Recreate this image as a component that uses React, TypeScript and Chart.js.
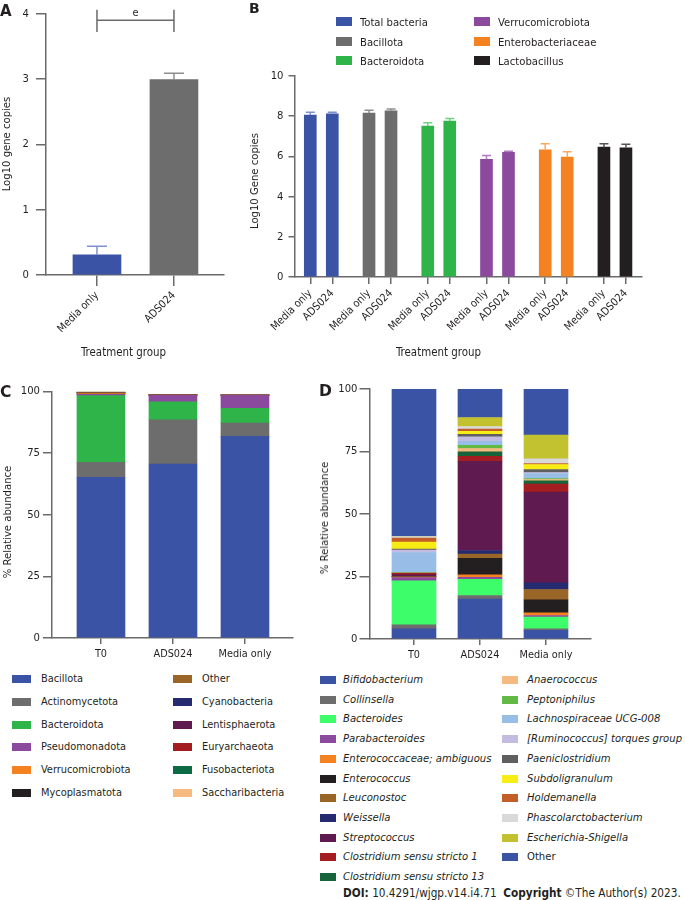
import React, { useEffect, useRef } from 'react';
import { Chart, registerables } from 'chart.js';

Chart.register(...registerables);

const FONT = "'DejaVu Sans Condensed', 'Liberation Sans', Arial, Helvetica, sans-serif";
const LETTER_FONT = "'DejaVu Sans', 'Liberation Sans', Arial, sans-serif";
const TEXT = '#231f20';
const AXIS = '#6a6a6a';
const TICK_SIZE = 10.8;

// ===== Panel A =====
const aGroups = ['Media only', 'ADS024'];
const aMeans = [0.31, 2.99];
const aSem = [0.13, 0.1];
const aColors = ['#3a53a4', '#6d6d6d'];
const aErrColors = ['#7d91d2', '#8e8e8e'];
const aSigLabel = 'e';

// ===== Panel B =====
const bTargets = ['Total bacteria', 'Bacillota', 'Bacteroidota', 'Verrucomicrobiota', 'Enterobacteriaceae', 'Lactobacillus'];
const bGroups = ['Media only', 'ADS024'];
const bMediaMeans = [8.06, 8.16, 7.51, 5.86, 6.33, 6.46];
const bAdsMeans = [8.12, 8.27, 7.76, 6.2, 5.96, 6.43];
const bMediaSem = [0.14, 0.13, 0.16, 0.19, 0.3, 0.17];
const bAdsSem = [0.08, 0.09, 0.13, 0.06, 0.27, 0.18];
const bColors = ['#3a53a4', '#6d6d6d', '#2fb44a', '#8b4a9e', '#f58220', '#231f20'];
const bErrColors = ['#7d91d2', '#8e8e8e', '#6fd283', '#b07dc0', '#f9a862', '#555555'];

// ===== Panel C =====
const cGroups = ['T0', 'ADS024', 'Media only'];
const cPhyla = ['Bacillota', 'Actinomycetota', 'Bacteroidota', 'Pseudomonadota', 'Verrucomicrobiota', 'Mycoplasmatota', 'Other', 'Cyanobacteria', 'Lentisphaerota', 'Euryarchaeota', 'Fusobacteriota', 'Saccharibacteria'];
const cT0 = [65.2, 6.1, 27.0, 0.6, 0.3, 0.05, 0.3, 0.05, 0.05, 0.05, 0.05, 0.25];
const cAds = [70.6, 17.9, 7.3, 2.6, 0.1, 0, 0.05, 0, 0, 0.05, 0, 0.3];
const cMedia = [81.8, 5.4, 6.0, 5.2, 0.1, 0, 0.05, 0, 0, 0, 0, 0.1];
const cColors = ['#3a53a4', '#6d6d6d', '#2fb44a', '#8b4a9e', '#f58220', '#231f20', '#996628', '#262a6e', '#5f1a4f', '#a31d21', '#0b6b45', '#f6b97f'];

// ===== Panel D =====
const dGroups = ['T0', 'ADS024', 'Media only'];
const dGenera = [
  'Bifidobacterium', 'Collinsella', 'Bacteroides', 'Parabacteroides', 'Enterococcaceae; ambiguous', 'Enterococcus',
  'Leuconostoc', 'Weissella', 'Streptococcus', 'Clostridium sensu stricto 1', 'Clostridium sensu stricto 13',
  'Anaerococcus', 'Peptoniphilus', 'Lachnospiraceae UCG-008', '[Ruminococcus] torques group', 'Paeniclostridium',
  'Subdoligranulum', 'Holdemanella', 'Phascolarctobacterium', 'Escherichia-Shigella', 'Other',
];
const dT0 = [4.1, 1.6, 17.6, 1.3, 0.2, 0.1, 0.1, 0.1, 0.6, 0.6, 0.1, 0.1, 0.1, 8.0, 1.0, 0.4, 2.8, 1.6, 0.6, 0.1, 58.9];
const dAds = [16.0, 1.4, 6.5, 0.8, 1.0, 6.6, 1.7, 1.4, 35.7, 2.0, 1.8, 1.3, 1.3, 1.6, 1.8, 1.0, 1.2, 0.9, 1.0, 3.6, 11.4];
const dMedia = [3.5, 0.6, 4.7, 0.6, 1.1, 5.2, 4.1, 2.7, 36.3, 3.2, 1.3, 0.5, 0.4, 2.0, 0.4, 1.2, 2.0, 0.4, 1.9, 9.5, 18.4];
const dColors = [
  '#3a53a4', '#6d6d6d', '#3dfd6a', '#8b4a9e', '#f58220', '#231f20', '#996628', '#262a6e', '#5f1a4f', '#a31d21',
  '#17643a', '#f6b97f', '#63b946', '#98bde6', '#c3bce0', '#5f5f5f', '#f7ec13', '#c45e28', '#d9d9d9', '#c2c12f', '#3a53a4',
];

// ---------- helpers ----------
function xLinear(o: any) {
  return {
    type: 'linear',
    min: o.min,
    max: o.max,
    bounds: 'data',
    offset: false,
    stacked: !!o.stacked,
    afterBuildTicks: (s: any) => {
      s.ticks = o.tickValues.map((v: number) => ({ value: v }));
    },
    afterFit: (s: any) => {
      s.height = o.xh;
    },
    grid: {
      display: true,
      drawOnChartArea: false,
      drawTicks: true,
      tickLength: o.tickLength,
      offset: false,
      color: AXIS,
      lineWidth: 1.5,
    },
    border: { display: true, color: AXIS, width: 1.5 },
    ticks: {
      autoSkip: false,
      minRotation: o.rotation,
      maxRotation: o.rotation,
      padding: o.padding,
      color: TEXT,
      font: { family: FONT, size: TICK_SIZE },
      callback: (v: number) => {
        const i = o.tickValues.indexOf(v);
        return i >= 0 ? o.labels[i] : '';
      },
    },
  };
}

function yLinear(o: any) {
  return {
    type: 'linear',
    min: 0,
    max: o.max,
    bounds: 'data',
    stacked: !!o.stacked,
    afterFit: (s: any) => {
      s.width = o.yw;
    },
    grid: {
      display: true,
      drawOnChartArea: false,
      drawTicks: true,
      tickLength: o.tickLength,
      color: AXIS,
      lineWidth: 1.5,
    },
    border: { display: true, color: AXIS, width: 1.5 },
    ticks: {
      stepSize: o.step,
      padding: o.padding,
      color: TEXT,
      font: { family: FONT, size: TICK_SIZE + 0.4 },
    },
  };
}

const errorBarPlugin = {
  id: 'errorBars',
  afterDatasetsDraw(chart: any) {
    const { ctx } = chart;
    const y = chart.scales.y;
    chart.data.datasets.forEach((ds: any, di: number) => {
      if (!ds.errors) return;
      const meta = chart.getDatasetMeta(di);
      meta.data.forEach((el: any, i: number) => {
        const v = ds.data[i].y;
        const yTop = y.getPixelForValue(v + ds.errors[i]);
        ctx.save();
        ctx.strokeStyle = ds.errorColors[i];
        ctx.lineWidth = 1.5;
        ctx.beginPath();
        ctx.moveTo(el.x, el.y);
        ctx.lineTo(el.x, yTop);
        ctx.moveTo(el.x - ds.capWidth / 2, yTop);
        ctx.lineTo(el.x + ds.capWidth / 2, yTop);
        ctx.stroke();
        ctx.restore();
      });
    });
  },
};

const bracketPlugin = {
  id: 'bracket',
  afterDraw(chart: any) {
    const { ctx } = chart;
    const x = chart.scales.x;
    const y = chart.scales.y;
    const x0 = x.getPixelForValue(0);
    const x1 = x.getPixelForValue(1);
    const yl = y.getPixelForValue(3.9);
    const yt = y.getPixelForValue(4.06);
    const yb = y.getPixelForValue(3.72);
    ctx.save();
    ctx.strokeStyle = AXIS;
    ctx.lineWidth = 1.5;
    ctx.beginPath();
    ctx.moveTo(x0, yt);
    ctx.lineTo(x0, yb);
    ctx.moveTo(x1, yt);
    ctx.lineTo(x1, yb);
    ctx.moveTo(x0, yl);
    ctx.lineTo(x1, yl);
    ctx.stroke();
    ctx.fillStyle = TEXT;
    ctx.font = `11px ${FONT}`;
    ctx.textAlign = 'center';
    ctx.textBaseline = 'alphabetic';
    ctx.fillText(aSigLabel, (x0 + x1) / 2, yl - 4);
    ctx.restore();
  },
};

function baseOptions(pad: any, scales: any) {
  return {
    responsive: false,
    animation: false,
    devicePixelRatio: 1,
    layout: { padding: pad },
    plugins: { legend: { display: false }, tooltip: { enabled: false }, title: { display: false } },
    scales,
  };
}

function ChartCanvas({ box, make }: { box: any; make: () => any }) {
  const ref = useRef<HTMLCanvasElement>(null);
  useEffect(() => {
    const chart = new Chart(ref.current as HTMLCanvasElement, make());
    return () => chart.destroy();
  }, []);
  return (
    <canvas
      ref={ref}
      width={box.width}
      height={box.height}
      style={{ position: 'absolute', left: box.left, top: box.top, width: box.width, height: box.height }}
    />
  );
}

// ---------- chart configs ----------
const boxA = { left: 0, top: 0, width: 232, height: 345 };
function makeA() {
  const idx = aGroups.map((_, i) => i);
  return {
    type: 'bar',
    data: {
      datasets: [
        {
          data: aMeans.map((v, i) => ({ x: i, y: v })),
          backgroundColor: aColors,
          barThickness: 48,
          borderWidth: 0,
          errors: aSem,
          errorColors: aErrColors,
          capWidth: 20,
        },
      ],
    },
    options: baseOptions({ left: 0, top: 7, right: 8, bottom: 0 }, {
      x: xLinear({ min: -0.662, max: 1.65, tickValues: idx, labels: aGroups, rotation: 45, xh: 70, tickLength: 11, padding: 3 }),
      y: yLinear({ max: 4, step: 1, yw: 46, tickLength: 10, padding: 7 }),
    }),
    plugins: [errorBarPlugin, bracketPlugin],
  };
}

const boxB = { left: 230, top: 60, width: 455, height: 290 };
const bStride = 2.67;
function makeB() {
  const xs: number[] = [];
  const labels: string[] = [];
  const means: number[] = [];
  const sems: number[] = [];
  const cols: string[] = [];
  const ecols: string[] = [];
  bTargets.forEach((_, g) => {
    bGroups.forEach((grp, j) => {
      xs.push(g * bStride + j);
      labels.push(grp);
      means.push(j === 0 ? bMediaMeans[g] : bAdsMeans[g]);
      sems.push(j === 0 ? bMediaSem[g] : bAdsSem[g]);
      cols.push(bColors[g]);
      ecols.push(bErrColors[g]);
    });
  });
  return {
    type: 'bar',
    data: {
      datasets: [
        {
          data: means.map((v, i) => ({ x: xs[i], y: v })),
          backgroundColor: cols,
          barThickness: 12,
          borderWidth: 0,
          errors: sems,
          errorColors: ecols,
          capWidth: 9,
        },
      ],
    },
    options: baseOptions({ left: 0, top: 16, right: 43, bottom: 0 }, {
      x: xLinear({ min: -0.718, max: 15.08, tickValues: xs, labels, rotation: 45, xh: 73, tickLength: 7, padding: 3 }),
      y: yLinear({ max: 10, step: 2, yw: 64.5, tickLength: 6, padding: 5 }),
    }),
    plugins: [errorBarPlugin],
  };
}

const boxC = { left: 0, top: 380, width: 300, height: 290 };
function makeC() {
  const groupsData = [cT0, cAds, cMedia];
  return {
    type: 'bar',
    data: {
      datasets: cPhyla.map((name, p) => ({
        label: name,
        data: groupsData.map((arr, g) => ({ x: g, y: arr[p] })),
        backgroundColor: cColors[p],
        barThickness: 48,
        borderWidth: 0,
      })),
    },
    options: baseOptions({ left: 0, top: 11.5, right: 7, bottom: 0 }, {
      x: xLinear({ min: -0.68, max: 2.667, tickValues: [0, 1, 2], labels: cGroups, rotation: 0, xh: 32, tickLength: 6, padding: 4, stacked: true }),
      y: yLinear({ max: 100, step: 25, yw: 52, tickLength: 9, padding: 3, stacked: true }),
    }),
  };
}

const boxD = { left: 310, top: 380, width: 290, height: 290 };
function makeD() {
  const groupsData = [dT0, dAds, dMedia];
  return {
    type: 'bar',
    data: {
      datasets: dGenera.map((name, p) => ({
        label: name,
        data: groupsData.map((arr, g) => ({ x: g, y: arr[p] })),
        backgroundColor: dColors[p],
        barThickness: 44,
        borderWidth: 0,
      })),
    },
    options: baseOptions({ left: 0, top: 9, right: 9, bottom: 0 }, {
      x: xLinear({ min: -0.674, max: 2.682, tickValues: [0, 1, 2], labels: dGroups, rotation: 0, xh: 31, tickLength: 6, padding: 4, stacked: true }),
      y: yLinear({ max: 100, step: 25, yw: 59.5, tickLength: 10, padding: 2, stacked: true }),
    }),
  };
}

// ---------- HTML text helpers ----------
function Txt({ x, cy, children, size = 12, bold = false, italic = false, center = false, family = FONT }: any) {
  return (
    <div
      style={{
        position: 'absolute',
        left: x,
        top: cy - 8,
        height: 16,
        lineHeight: '16px',
        fontFamily: family,
        fontSize: size,
        fontWeight: bold ? 700 : 400,
        fontStyle: italic ? 'italic' : 'normal',
        color: TEXT,
        whiteSpace: 'nowrap',
        transform: center ? 'translateX(-50%)' : undefined,
      }}
    >
      {children}
    </div>
  );
}

function VTxt({ cx, cy, children, size = 11.2 }: any) {
  return (
    <div
      style={{
        position: 'absolute',
        left: cx,
        top: cy,
        fontFamily: FONT,
        fontSize: size,
        lineHeight: '14px',
        color: TEXT,
        whiteSpace: 'nowrap',
        transform: 'translate(-50%, -50%) rotate(-90deg)',
      }}
    >
      {children}
    </div>
  );
}

function Swatch({ x, cy, w, h, color }: any) {
  return <div style={{ position: 'absolute', left: x, top: cy - h / 2, width: w, height: h, background: color }} />;
}

export default function App() {
  const bCol1 = [0, 1, 2];
  const bCol2 = [3, 4, 5];
  const bRowY = [21.7, 41.2, 60.3];
  const cRow = (i: number) => 679 + i * 22.8;
  const dRow = (i: number) => 680 + i * 19.7;
  return (
    <div style={{ position: 'absolute', left: 0, top: 0, width: 685, height: 900, background: '#fff', overflow: 'hidden' }}>
      <ChartCanvas box={boxA} make={makeA} />
      <ChartCanvas box={boxB} make={makeB} />
      <ChartCanvas box={boxC} make={makeC} />
      <ChartCanvas box={boxD} make={makeD} />

      {/* panel letters */}
      <Txt x={0} cy={11} size={15} bold family={LETTER_FONT}>A</Txt>
      <Txt x={249} cy={8} size={14} bold family={LETTER_FONT}>B</Txt>
      <Txt x={0} cy={392} size={15.5} bold family={LETTER_FONT}>C</Txt>
      <Txt x={319} cy={391} size={15.5} bold family={LETTER_FONT}>D</Txt>

      {/* axis titles */}
      <VTxt cx={7} cy={144}>Log10 gene copies</VTxt>
      <VTxt cx={255} cy={181}>Log10 Gene copies</VTxt>
      <VTxt cx={8} cy={522}>% Relative abundance</VTxt>
      <VTxt cx={325} cy={518}>% Relative abundance</VTxt>
      <Txt x={123.5} cy={352} size={11.4} center>Treatment group</Txt>
      <Txt x={438.5} cy={352} size={11.4} center>Treatment group</Txt>

      {/* legend B */}
      {bCol1.map((g, r) => (
        <React.Fragment key={'b1' + g}>
          <Swatch x={336} cy={bRowY[r]} w={16} h={9} color={bColors[g]} />
          <Txt x={360} cy={bRowY[r] + 1.5} size={11.2}>{bTargets[g]}</Txt>
        </React.Fragment>
      ))}
      {bCol2.map((g, r) => (
        <React.Fragment key={'b2' + g}>
          <Swatch x={474} cy={bRowY[r]} w={16} h={9} color={bColors[g]} />
          <Txt x={498} cy={bRowY[r] + 1.5} size={11.2}>{bTargets[g]}</Txt>
        </React.Fragment>
      ))}

      {/* legend C */}
      {cPhyla.map((name, p) => {
        const col = p < 6 ? 0 : 1;
        const r = p % 6;
        return (
          <React.Fragment key={'c' + p}>
            <Swatch x={col === 0 ? 12 : 173} cy={cRow(r)} w={19} h={8} color={cColors[p]} />
            <Txt x={col === 0 ? 41 : 202} cy={cRow(r)} size={10.9}>{name}</Txt>
          </React.Fragment>
        );
      })}

      {/* legend D */}
      {dGenera.map((name, p) => {
        const col = p < 11 ? 0 : 1;
        const r = col === 0 ? p : p - 11;
        return (
          <React.Fragment key={'d' + p}>
            <Swatch x={col === 0 ? 320 : 502} cy={dRow(r)} w={16} h={8} color={dColors[p]} />
            <Txt x={col === 0 ? 343 : 527} cy={dRow(r)} size={11.2} italic={name !== 'Other'}>{name}</Txt>
          </React.Fragment>
        );
      })}

      {/* footer */}
      <Txt x={343} cy={893} size={11.7}>
        <b>DOI:</b> 10.4291/wjgp.v14.i4.71{'\u00a0\u00a0'}<b>Copyright</b> ©The Author(s) 2023.
      </Txt>
    </div>
  );
}
